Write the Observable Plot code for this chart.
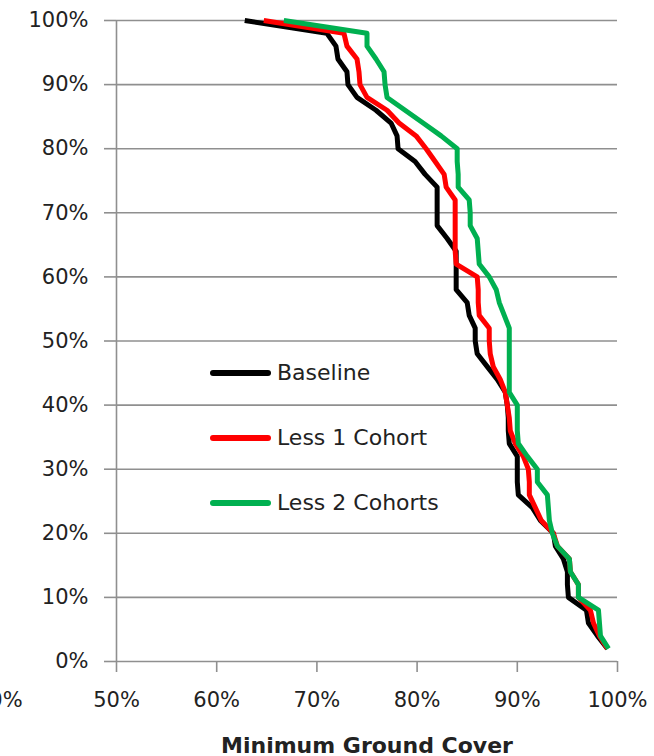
<!DOCTYPE html>
<html><head><meta charset="utf-8">
<script src="https://cdn.jsdelivr.net/npm/d3@7"></script>
<script src="https://cdn.jsdelivr.net/npm/@observablehq/plot@0.6"></script>
<style>
body{margin:0;background:#fff;}
#wrap{position:relative;width:654px;height:756px;overflow:hidden;}
.legend{position:absolute;left:210px;top:340px;font-family:"DejaVu Sans",sans-serif;font-size:22px;color:#222;}
.legend .item{display:flex;align-items:center;height:65px;}
.legend .swatch{width:61px;height:6px;border-radius:3px;margin-right:6px;}
</style></head>
<body><div id="wrap"></div>
<script>
const percentiles = [100,98,96,94,92,90,88,86,84,82,80,78,76,74,72,70,68,66,64,62,60,58,56,54,52,50,48,46,44,42,40,38,36,34,32,30,28,26,24,22,20,18,16,14,12,10,8,6,4,2];
const baseline = [62.8,71.0,71.9,72.1,73.0,73.1,74.0,75.9,77.4,78.0,78.1,79.8,80.8,82.0,82.0,82.0,82.0,83.0,83.9,83.9,83.9,83.9,85.0,85.2,85.8,85.8,86.0,87.0,88.0,88.8,89.0,89.1,89.1,89.2,90.0,90.0,90.0,90.1,91.5,92.3,93.6,93.8,94.6,95.0,95.0,95.1,96.9,97.1,98.0,99.0];
const less1 = [64.7,72.7,73.0,74.0,74.2,74.3,75.0,77.0,78.2,79.9,80.9,81.8,82.7,82.9,83.8,83.8,83.8,83.8,83.8,83.9,86.0,86.1,86.1,86.2,87.2,87.2,87.3,87.6,88.3,88.8,89.0,89.2,89.3,89.8,90.6,91.1,91.2,91.2,91.8,92.4,93.6,94.0,95.2,95.3,96.1,96.1,97.3,97.6,98.2,99.0];
const less2 = [66.7,75.0,75.0,75.9,76.7,76.8,77.0,78.8,80.6,82.4,84.0,84.0,84.1,84.1,85.2,85.3,85.3,86.0,86.1,86.2,87.2,87.9,88.2,88.7,89.2,89.2,89.2,89.2,89.2,89.2,90.0,90.0,90.0,90.1,91.0,92.0,92.0,93.0,93.1,93.2,93.5,94.0,95.2,95.3,96.1,96.1,98.1,98.2,98.3,99.1];
const seriesNames = ["Baseline","Less 1 Cohort","Less 2 Cohorts"];
const seriesColors = ["#000000","#ff0000","#00b050"];
const xTicks = [0.5,0.6,0.7,0.8,0.9,1.0];
const xCutTick = [0.4];
const yTicks = [0,0.1,0.2,0.3,0.4,0.5,0.6,0.7,0.8,0.9,1.0];
const xTitle = "Minimum Ground Cover";

const seriesValues = [baseline, less1, less2];
const rows = [];
seriesNames.forEach((name, i) => {
  percentiles.forEach((p, j) => rows.push({series: name, x: seriesValues[i][j] / 100, y: p / 100}));
});
const pct = d3.format(".0%");
const grid = "#8f8f8f";

const chart = Plot.plot({
  width: 654, height: 756,
  marginLeft: 116, marginRight: 37, marginTop: 20, marginBottom: 95,
  style: {fontFamily: "DejaVu Sans, sans-serif", fontSize: "21px", color: "#222", background: "#fff", overflow: "visible"},
  x: {domain: [0.5, 1.0]},
  y: {domain: [0, 1]},
  color: {domain: seriesNames, range: seriesColors},
  marks: [
    Plot.gridY(yTicks, {stroke: grid, strokeOpacity: 1, strokeWidth: 1.6}),
    Plot.ruleX([0.5], {stroke: grid, strokeWidth: 1.6}),
    Plot.axisY(yTicks, {tickSize: 12, tickPadding: 16, tickFormat: pct, stroke: grid, strokeWidth: 1.6, fill: "#222", label: null}),
    Plot.axisX(xTicks, {tickSize: 11, tickPadding: 20, tickFormat: pct, stroke: grid, strokeWidth: 1.6, fill: "#222",
      label: xTitle, labelAnchor: "center", labelOffset: 91, labelArrow: "none"}),
    Plot.axisX(xCutTick, {tickSize: 0, tickPadding: 31, tickFormat: pct, dx: -17, fill: "#222", label: null}),
    Plot.line(rows, {x: "x", y: "y", z: "series", stroke: "series", strokeWidth: 5, strokeLinejoin: "round", strokeLinecap: "butt"})
  ]
});
d3.select(chart).selectAll('[aria-label="x-axis label"]').attr("font-weight", "bold").attr("font-size", "22px");
document.getElementById("wrap").appendChild(chart);

const legend = d3.select("#wrap").append("div").attr("class", "legend");
seriesNames.forEach((name, i) => {
  const it = legend.append("div").attr("class", "item");
  it.append("div").attr("class", "swatch").style("background", seriesColors[i]);
  it.append("span").text(name);
});
</script>
</body></html>
